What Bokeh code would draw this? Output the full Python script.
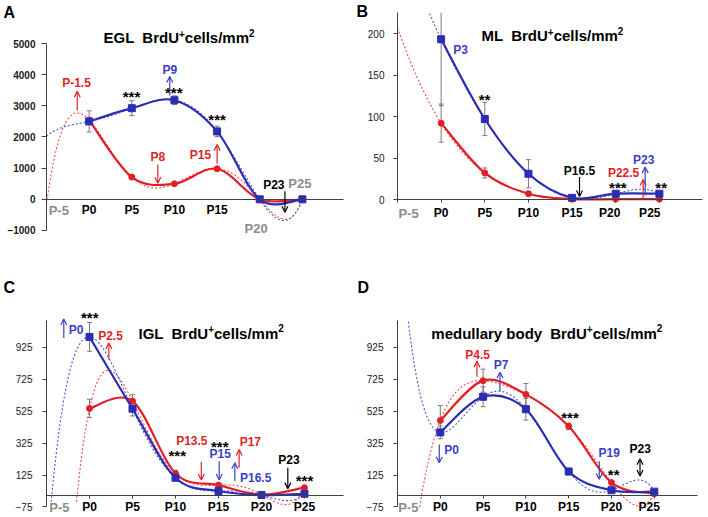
import numpy as np
from bokeh.plotting import figure
from bokeh.models import Range1d, FixedTicker, Label, Arrow, OpenHead, ColumnDataSource
from bokeh.layouts import column, row
from bokeh.embed import file_html
from bokeh.resources import INLINE

FONT = "Liberation Sans"
BLUE = "#2B2DB5"
BLUE_T = "#3A3FC8"
BLUE_DOT = "#4B50CF"
RED = "#E31F26"
RED_DOT = "#EE4A4F"
GRAY = "#8C8C8C"
ERR = "#7A7A7A"
AXIS = "#404040"

# ---------------- data ----------------
days = [0, 5, 10, 15, 20, 25]
x_ticks = [-5, 0, 5, 10, 15, 20, 25]
x_tick_labels = ["P-5", "P0", "P5", "P10", "P15", "P20", "P25"]

# A  EGL
egl_blue = [2500, 2925, 3180, 2180, 0, 0]
egl_blue_err = [340, 240, 140, 170, 0, 0]
egl_red = [2540, 713, 500, 980, 0, 0]
egl_red_err = [60, 40, 40, 50, 0, 0]
egl_yticks = [-1000, 0, 1000, 2000, 3000, 4000, 5000]

# B  ML
ml_blue = [193, 97, 31, 2, 7, 7]
ml_blue_err = [80, 20, 17, 1, 1, 1]
ml_red = [92, 32, 7, 0.5, 0.5, 0.5]
ml_red_err = [23, 6, 2, 0, 0, 0]
ml_yticks = [0, 50, 100, 150, 200]

# C  IGL
igl_blue = [990, 540, 108, 25, 0, 8]
igl_blue_err = [90, 45, 15, 5, 0, 5]
igl_red = [542, 588, 135, 62, 2, 46]
igl_red_err = [57, 40, 20, 10, 0, 8]
igl_yticks = [-75, 125, 325, 525, 725, 925]

# D  medullary body
med_blue = [392, 615, 537, 147, 30, 21]
med_blue_err = [40, 62, 68, 20, 5, 5]
med_red = [467, 716, 630, 430, 78, 8]
med_red_err = [93, 72, 68, 20, 8, 3]
med_yticks = [-75, 125, 325, 525, 725, 925]

# Arial-bold advance widths (per 1000 em) for title layout
W = {" ": 278, "E": 667, "G": 778, "L": 611, "B": 722, "r": 389, "d": 611, "U": 722,
     "M": 833, "I": 278, "c": 556, "e": 556, "l": 278, "s": 556, "/": 278, "m": 889,
     "a": 556, "u": 611, "y": 556, "b": 611, "o": 611, "+": 584, "2": 556}


def tw(text, size):
    return sum(W.get(ch, 556) for ch in text) / 1000.0 * size


def smooth_segments(xs, ys):
    n = len(xs)
    d = dict(x0=[], y0=[], x1=[], y1=[], cx0=[], cy0=[], cx1=[], cy1=[])
    for i in range(n - 1):
        a = max(i - 1, 0)
        dd = min(i + 2, n - 1)
        d["x0"].append(xs[i]); d["y0"].append(ys[i])
        d["x1"].append(xs[i + 1]); d["y1"].append(ys[i + 1])
        d["cx0"].append(xs[i] + (xs[i + 1] - xs[a]) / 6.0)
        d["cy0"].append(ys[i] + (ys[i + 1] - ys[a]) / 6.0)
        d["cx1"].append(xs[i + 1] - (xs[dd] - xs[i]) / 6.0)
        d["cy1"].append(ys[i + 1] - (ys[dd] - ys[i]) / 6.0)
    return d


def base_fig(width, height, xr, yr, xbounds, ybounds, yticks, ybold, ytick_out,
             ystandoff, xtick_out, xstandoff, hidden):
    p = figure(width=width, height=height, x_range=Range1d(*xr), y_range=Range1d(*yr),
               output_backend="svg", toolbar_location=None, tools="",
               min_border=0, min_border_left=0, min_border_right=0,
               min_border_top=0, min_border_bottom=0)
    p.outline_line_color = None
    p.xgrid.visible = False
    p.ygrid.visible = False
    ya = p.yaxis[0]
    ya.fixed_location = xbounds[0]
    ya.bounds = ybounds
    ya.ticker = FixedTicker(ticks=yticks)
    ya.major_label_text_font = FONT
    ya.major_label_text_font_size = "10px"
    ya.major_label_text_font_style = "bold" if ybold else "normal"
    ya.major_label_text_color = "#1a1a1a"
    ya.axis_line_color = AXIS
    ya.major_tick_line_color = AXIS
    ya.major_tick_in = 0
    ya.major_tick_out = ytick_out
    ya.minor_tick_line_color = None
    ya.major_label_standoff = ystandoff
    xa = p.xaxis[0]
    xa.fixed_location = 0
    xa.bounds = xbounds
    xa.ticker = FixedTicker(ticks=x_ticks)
    xa.major_label_overrides = {t: ("" if lab in hidden else lab)
                                for t, lab in zip(x_ticks, x_tick_labels)}
    xa.major_label_text_font = FONT
    xa.major_label_text_font_size = "12px"
    xa.major_label_text_font_style = "bold"
    xa.major_label_text_color = "black"
    xa.axis_line_color = AXIS
    xa.major_tick_line_color = AXIS if xtick_out > 0 else None
    xa.major_tick_in = 0
    xa.major_tick_out = xtick_out
    xa.minor_tick_line_color = None
    xa.major_label_standoff = xstandoff
    return p


def series(p, vals, errs, dot_color, ybounds):
    # order-5 polynomial trend line (as in the source), clipped to the plot area
    coef = np.polyfit(days, vals, 5)
    xx = np.linspace(-5, 25, 500)
    yy = np.polyval(coef, xx)
    yy = np.where((yy < ybounds[0]) | (yy > ybounds[1]), np.nan, yy)
    p.line(xx, yy, line_color=dot_color, line_width=1.1, line_dash="2 2")
    lo = [v - e for v, e in zip(vals, errs)]
    hi = [v + e for v, e in zip(vals, errs)]
    hi_c = [min(h, ybounds[1]) for h in hi]
    p.segment(x0=days, y0=lo, x1=days, y1=hi_c, line_color=ERR, line_width=1)
    p.scatter(days, lo, marker="dash", size=5, line_color=ERR, line_width=1)
    keep = [i for i, h in enumerate(hi) if h <= ybounds[1]]
    p.scatter([days[i] for i in keep], [hi[i] for i in keep], marker="dash", size=5,
              line_color=ERR, line_width=1)


def solid(p, vals, color, marker, msize):
    seg = smooth_segments(days, vals)
    p.bezier(source=ColumnDataSource(seg), x0="x0", y0="y0", x1="x1", y1="y1",
             cx0="cx0", cy0="cy0", cx1="cx1", cy1="cy1", line_color=color,
             line_width=2.2)
    p.scatter(days, vals, marker=marker, size=msize, fill_color=color,
              line_color=color)


def label(p, x, y, text, color, size=12, align="center", baseline="middle",
          style="bold", xo=0, yo=0):
    p.add_layout(Label(x=x, y=y, text=text, text_color=color, text_font=FONT,
                       text_font_size=f"{size}px", text_font_style=style,
                       text_align=align, text_baseline=baseline,
                       x_offset=xo, y_offset=yo))


def stars(p, x, y, text):
    label(p, x, y, text, "black", size=15, yo=-3)


def arrow(p, x0, y0, x1, y1, color, double=False):
    head = lambda: OpenHead(size=6, line_color=color, line_width=1.2)
    p.add_layout(Arrow(x_start=x0, y_start=y0, x_end=x1, y_end=y1,
                       line_color=color, line_width=1.2, end=head(),
                       start=head() if double else None))


def title(p, x, y, prefix, size=15, sup=10, gap=8):
    label(p, x, y, prefix, "black", size=size, align="left", baseline="alphabetic")
    o = tw(prefix, size) + gap
    label(p, x, y, "BrdU", "black", size=size, align="left", baseline="alphabetic",
          xo=o)
    o += tw("BrdU", size)
    label(p, x, y, "+", "black", size=sup, align="left", baseline="alphabetic",
          xo=o, yo=4)
    o += tw("+", sup)
    label(p, x, y, "cells/mm", "black", size=size, align="left",
          baseline="alphabetic", xo=o)
    o += tw("cells/mm", size)
    label(p, x, y, "2", "black", size=sup, align="left", baseline="alphabetic",
          xo=o, yo=5)


def xlab(p, x, text, color, off, size=12):
    label(p, x, 0, text, color, size=size, baseline="top", yo=-off)


# ---------------- panel A ----------------
egl_yb = (-1000, 5000)
pA = base_fig(354, 258, (-10.393, 31.108), (-1898.5, 6379.7), (-5, 29.8), egl_yb,
              egl_yticks, True, 5, 6, 0, 4, {"P-5", "P20", "P25"})
series(pA, egl_red, egl_red_err, RED_DOT, egl_yb)
series(pA, egl_blue, egl_blue_err, BLUE_DOT, egl_yb)
solid(pA, egl_red, RED, "circle", 6)
solid(pA, egl_blue, BLUE, "square", 7)
xlab(pA, -3.56, "P-5", GRAY, 4, 13)
label(pA, 24.7, 497, "P25", GRAY, size=13)
label(pA, 19.58, -947, "P20", GRAY, size=13)
label(pA, -1.48, 3725, "P-1.5", RED)
label(pA, 9.45, 4155, "P9", BLUE_T)
label(pA, 8.05, 1373, "P8", RED)
label(pA, 13.05, 1437, "P15", RED)
label(pA, 21.65, 465, "P23", "black")
stars(pA, 4.96, 3404, "***")
stars(pA, 9.92, 3513, "***")
stars(pA, 15.0, 2656, "***")
arrow(pA, -1.4, 2849, -1.4, 3468, RED)
arrow(pA, 9.45, 3330, 9.45, 3939, BLUE_T)
arrow(pA, 8.05, 1116, 8.05, 517, RED)
arrow(pA, 15.0, 1139, 15.0, 1755, RED)
arrow(pA, 22.95, 260, 22.95, -414, "black")
title(pA, 1.68, 5192, "EGL")
label(pA, -10.04, 5995, "A", "black", size=16, align="left")

# ---------------- panel B ----------------
ml_yb = (0, 225)
pB = base_fig(354, 258, (-9.926, 30.624), (-71.08, 239.76), (-5, 29.9), ml_yb,
              ml_yticks, False, 4, 9, 3, 3, {"P-5", "P20", "P25"})
series(pB, ml_red, ml_red_err, RED_DOT, ml_yb)
series(pB, ml_blue, ml_blue_err, BLUE_DOT, ml_yb)
solid(pB, ml_red, RED, "circle", 6)
solid(pB, ml_blue, BLUE, "square", 7)
xlab(pB, -3.74, "P-5", GRAY, 6, 13)
xlab(pB, 19.3, "P20", "black", 6)
xlab(pB, 23.9, "P25", "black", 6)
label(pB, 2.22, 180, "P3", BLUE_T)
label(pB, 15.85, 34, "P16.5", "black")
label(pB, 20.9, 31.8, "P22.5", RED)
label(pB, 23.2, 48, "P23", BLUE_T)
stars(pB, 4.97, 124, "**")
stars(pB, 20.24, 17.7, "***")
stars(pB, 25.2, 17.7, "**")
arrow(pB, 15.85, 27, 15.85, 3.6, "black")
arrow(pB, 23.14, 0, 23.14, 24, RED)
arrow(pB, 23.37, 4.8, 23.37, 39, BLUE_T)
title(pB, 4.62, 197, "ML")
label(pB, -9.70, 226.5, "B", "black", size=16, align="left")

# ---------------- panel C ----------------
igl_yb = (-75, 1090)
pC = base_fig(354, 258, (-10.349, 30.814), (-134.6, 1480.9), (-5, 29.5), igl_yb,
              igl_yticks, False, 4, 10, 3, 2, {"P-5"})
series(pC, igl_red, igl_red_err, RED_DOT, igl_yb)
series(pC, igl_blue, igl_blue_err, BLUE_DOT, igl_yb)
solid(pC, igl_red, RED, "circle", 6)
solid(pC, igl_blue, BLUE, "square", 7)
xlab(pC, -3.49, "P-5", GRAY, 5, 13)
label(pC, -2.4, 1035, "P0", BLUE_T, align="left")
label(pC, 2.44, 998, "P2.5", RED)
label(pC, 11.9, 337, "P13.5", RED)
label(pC, 15.2, 254, "P15", BLUE_T)
label(pC, 18.7, 333, "P17", RED)
label(pC, 17.5, 108, "P16.5", BLUE_T, align="left")
label(pC, 23.2, 217, "P23", "black")
stars(pC, 0.03, 1129, "***")
stars(pC, 10.2, 269, "***")
stars(pC, 15.15, 321, "***")
stars(pC, 25.0, 108, "***")
arrow(pC, -2.99, 983, -2.99, 1102, BLUE_T)
arrow(pC, 2.25, 848, 2.25, 952, RED)
arrow(pC, 13.0, 206, 13.0, 94, RED)
arrow(pC, 15.08, 212, 15.08, 94, BLUE_T)
arrow(pC, 17.4, 171, 17.4, 285, RED)
arrow(pC, 16.9, 87.5, 16.9, 202, BLUE_T)
arrow(pC, 23.06, 171, 23.06, 40, "black")
title(pC, 5.7, 1012, "IGL")
label(pC, -10.0, 1299, "C", "black", size=16, align="left")

# ---------------- panel D ----------------
med_yb = (-75, 1090)
pD = base_fig(354, 258, (-10.023, 31.332), (-134.6, 1480.9), (-5, 30.0), med_yb,
              med_yticks, False, 4, 10, 3, 2, {"P-5", "P25"})
series(pD, med_red, med_red_err, RED_DOT, med_yb)
series(pD, med_blue, med_blue_err, BLUE_DOT, med_yb)
solid(pD, med_red, RED, "circle", 6)
solid(pD, med_blue, BLUE, "square", 7)
xlab(pD, -3.74, "P-5", GRAY, 5, 13)
xlab(pD, 24.4, "P25", "black", 5)
label(pD, 4.36, 879, "P4.5", RED)
label(pD, 7.09, 817, "P7", BLUE_T)
label(pD, 0.47, 281, "P0", BLUE_T, align="left")
label(pD, 19.74, 260, "P19", BLUE_T)
label(pD, 23.36, 285, "P23", "black")
stars(pD, 15.15, 504, "***")
stars(pD, 20.25, 150, "**")
arrow(pD, 4.28, 740, 4.28, 838, RED)
arrow(pD, 6.97, 650, 6.97, 769, BLUE_T)
arrow(pD, -0.12, 317, -0.12, 202, BLUE_T)
arrow(pD, 18.57, 212, 18.57, 98, BLUE_T)
arrow(pD, 23.33, 227, 23.33, 119, "black", double=True)
title(pD, -1.05, 1012, "medullary body")
label(pD, -9.67, 1299, "D", "black", size=16, align="left")

layout = column(row(pA, pB), row(pC, pD))
open("out.html", "w").write(file_html(layout, INLINE))
